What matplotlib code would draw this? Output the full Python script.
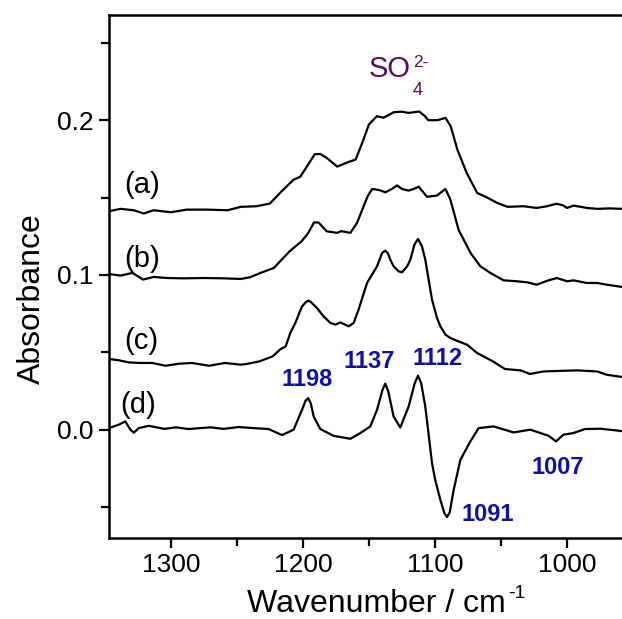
import matplotlib
matplotlib.use("Agg")
import matplotlib.pyplot as plt
from matplotlib.ticker import MultipleLocator

plt.rcParams['font.family'] = 'Liberation Sans'

# spectra (wavenumber in cm-1, absorbance)
wn_a = [1347, 1338, 1328, 1320.5, 1313, 1300, 1288, 1272, 1257, 1247,
        1235, 1225, 1216, 1207, 1202, 1196, 1191, 1187, 1182, 1174, 1166,
        1160, 1155, 1150, 1144, 1139, 1131, 1125, 1120, 1112, 1108,
        1105, 1098, 1092, 1088, 1083, 1076, 1068, 1060, 1053, 1045,
        1033, 1023, 1015, 1008, 1003, 1000, 995, 985, 977, 968, 958]
abs_a = [0.1412, 0.1427, 0.1418, 0.1397, 0.1418, 0.1405, 0.1422, 0.1422, 0.1418, 0.1440,
         0.1444, 0.1461, 0.1541, 0.1616, 0.1634, 0.1713, 0.1780, 0.1782, 0.1757, 0.1700, 0.1728,
         0.1746, 0.1854, 0.1972, 0.2026, 0.2016, 0.2052, 0.2055, 0.2047, 0.2056, 0.2030,
         0.2000, 0.2000, 0.2015, 0.1960, 0.1810, 0.1660, 0.1530, 0.1498, 0.1466, 0.1440,
         0.1444, 0.1433, 0.1444, 0.1460, 0.1450, 0.1433, 0.1448, 0.1433, 0.1427, 0.1430, 0.1427]

wn_b = [1347, 1338, 1329, 1321, 1313, 1303, 1290, 1275, 1260, 1247,
        1240, 1232, 1222, 1210, 1201, 1196, 1191.5, 1188, 1182, 1174, 1171,
        1164, 1159, 1151, 1147.5, 1142, 1137.5, 1132.5, 1128.7, 1125, 1120,
        1116, 1112.3, 1106, 1098.4, 1092, 1088.3, 1082, 1073, 1065.6, 1058,
        1048, 1038, 1030, 1023, 1014, 1007.6, 1000, 995, 985, 977, 970, 958]
abs_b = [0.1006, 0.0996, 0.1013, 0.0970, 0.0987, 0.0980, 0.0978, 0.0980, 0.0978, 0.0974,
         0.0985, 0.1013, 0.1045, 0.1153, 0.1217, 0.1270, 0.1340, 0.1338, 0.1282, 0.1272, 0.1283,
         0.1272, 0.1336, 0.1508, 0.1556, 0.1548, 0.1534, 0.1556, 0.1578, 0.1556, 0.1545,
         0.1556, 0.1570, 0.1505, 0.1513, 0.1556, 0.1487, 0.1290, 0.1142, 0.1056, 0.1013,
         0.0965, 0.0959, 0.0952, 0.0937, 0.0965, 0.0980, 0.0959, 0.0965, 0.0948, 0.0948, 0.0937, 0.0922]

wn_c = [1347, 1339, 1332, 1324, 1314, 1304, 1294, 1284, 1271, 1259,
        1247, 1243, 1233, 1223, 1217, 1213, 1209.5, 1205.7, 1200.6, 1197.5, 1195.6, 1193.5,
        1189.3, 1184.3, 1179.2, 1175.4, 1171.6, 1165.3, 1161.5, 1157.8, 1151.4, 1143.8,
        1140, 1137.6, 1135.5, 1133.8, 1131.3, 1127.4, 1124.9, 1121, 1118.6, 1115.5, 1112.8,
        1109.8, 1107.3, 1102.2, 1098.4, 1095.9, 1092, 1088.3, 1082, 1075.7, 1068,
        1056, 1047, 1035, 1028, 1018, 1005, 992, 977, 970, 958]
abs_c = [0.0457, 0.0448, 0.0435, 0.0431, 0.0431, 0.0413, 0.0426, 0.0431, 0.0413, 0.0431,
         0.0420, 0.0424, 0.0441, 0.0473, 0.0520, 0.0538, 0.0625, 0.0690, 0.0797, 0.0826, 0.0834, 0.0822,
         0.0786, 0.0732, 0.0690, 0.0679, 0.0693, 0.0668, 0.0690, 0.0776, 0.0948, 0.1056,
         0.1142, 0.1157, 0.1138, 0.1099, 0.1056, 0.1023, 0.1017, 0.1056, 0.1099, 0.1196, 0.1233,
         0.1185, 0.1099, 0.0840, 0.0722, 0.0668, 0.0614, 0.0592, 0.0570, 0.0549, 0.0495,
         0.0441, 0.0392, 0.0383, 0.0360, 0.0376, 0.0380, 0.0383, 0.0376, 0.0355, 0.0340]

wn_d = [1347, 1339.4, 1334.4, 1330.6, 1328, 1324.3, 1316.7, 1305, 1296, 1286.5,
        1270, 1260, 1248.6, 1237, 1225.9, 1215.8, 1207, 1200.6, 1198, 1196, 1194, 1191.8,
        1186.8, 1176.7, 1164, 1156.5, 1148.9, 1143.8, 1139.8, 1137.6, 1135.4, 1131.3, 1126.2, 1119.9,
        1115.3, 1112.8, 1110.4, 1107.3, 1102.2, 1099.8, 1095.9, 1092.8, 1090.8, 1088.8, 1085.8,
        1080.7, 1073.2, 1066.9, 1055.6,
        1040.4, 1027.8, 1013.8, 1008.3, 1002.8, 995.3, 986.3, 975, 962.4, 958]
abs_d = [0.0010, 0.0032, 0.0053, 0.0000, -0.0020, 0.0010, 0.0025, 0.0005, 0.0015, 0.0004,
         0.0015, 0.0005, 0.0017, 0.0010, 0.0004, -0.0035, 0.0000, 0.0129, 0.0186, 0.0204, 0.0170, 0.0085,
         0.0004, -0.0040, -0.0059, -0.0022, 0.0021, 0.0129, 0.0255, 0.0297, 0.0250, 0.0085, 0.0014, 0.0150,
         0.0300, 0.0349, 0.0300, 0.0150, -0.0216, -0.0324, -0.0453, -0.0540, -0.0565, -0.0535, -0.0389,
         -0.0195, -0.0076, 0.0010, 0.0021,
         -0.0018, 0.0000, -0.0040, -0.0076, -0.0033, -0.0022, 0.0004, 0.0006, -0.0005, -0.0010]

curve_labels = ['(a)', '(b)', '(c)', '(d)']
curve_label_pos = [(1321.7, 0.1584), (1321.7, 0.1106), (1322.2, 0.0575), (1324.5, 0.0161)]

peak_labels = ['1198', '1137', '1112', '1091', '1007']
peak_label_pos = [(1196.8, 0.028), (1149.7, 0.0398), (1097.8, 0.042), (1059.8, -0.0588), (1007, -0.0287)]

fig = plt.figure(figsize=(6.22, 6.19), dpi=100)
# axes runs past the right edge, as in the cropped original
ax = fig.add_axes([0.1748, 0.1309, 0.8429, 0.8449])

for wn, a in [(wn_a, abs_a), (wn_b, abs_b), (wn_c, abs_c), (wn_d, abs_d)]:
    ax.plot(wn, a, color='black', lw=1.6)

ax.set_xlim(1347, 950)
ax.set_ylim(-0.07, 0.268)

ax.xaxis.set_major_locator(MultipleLocator(100))
ax.xaxis.set_minor_locator(MultipleLocator(50))
ax.yaxis.set_major_locator(MultipleLocator(0.1))
ax.yaxis.set_minor_locator(MultipleLocator(0.05))
ax.yaxis.set_major_formatter(plt.FuncFormatter(lambda v, p: f'{v:.1f}'))

ax.tick_params(which='major', direction='out', length=7, width=1.6, labelsize=19, pad=4)
ax.tick_params(which='minor', direction='out', length=6, width=1.6)
ax.tick_params(axis='x', which='both', top=False)
ax.tick_params(axis='y', which='both', right=False)
for sp in ax.spines.values():
    sp.set_linewidth(1.8)

for lab, (x, y) in zip(curve_labels, curve_label_pos):
    ax.text(x, y, lab, fontsize=21, ha='center', va='center')

for lab, (x, y) in zip(peak_labels, peak_label_pos):
    ax.text(x, y, lab, fontsize=17, fontweight='bold', color='#1010a0',
            ha='center', va='baseline')

# SO4 2- annotation
purple = '#5a0c5a'
ax.text(1150.4, 0.2276, 'SO', fontsize=21, color=purple, ha='left', va='baseline')
ax.text(1116.8, 0.2166, '4', fontsize=13, color=purple, ha='left', va='baseline')
ax.text(1116.8, 0.2341, '2-', fontsize=12.5, color=purple, ha='left', va='baseline')

# axis titles, placed in figure pixels
fig.text(246.7 / 622, 1 - 612 / 619, 'Wavenumber / cm', fontsize=23,
         ha='left', va='baseline')
fig.text(508 / 622, 1 - 598 / 619, '-1', fontsize=14, ha='left', va='baseline')
fig.text(40 / 622, 1 - 298.6 / 619, 'Absorbance', fontsize=23, rotation=90,
         ha='center', va='baseline', rotation_mode='anchor')

fig.savefig('out.png', dpi=100)
